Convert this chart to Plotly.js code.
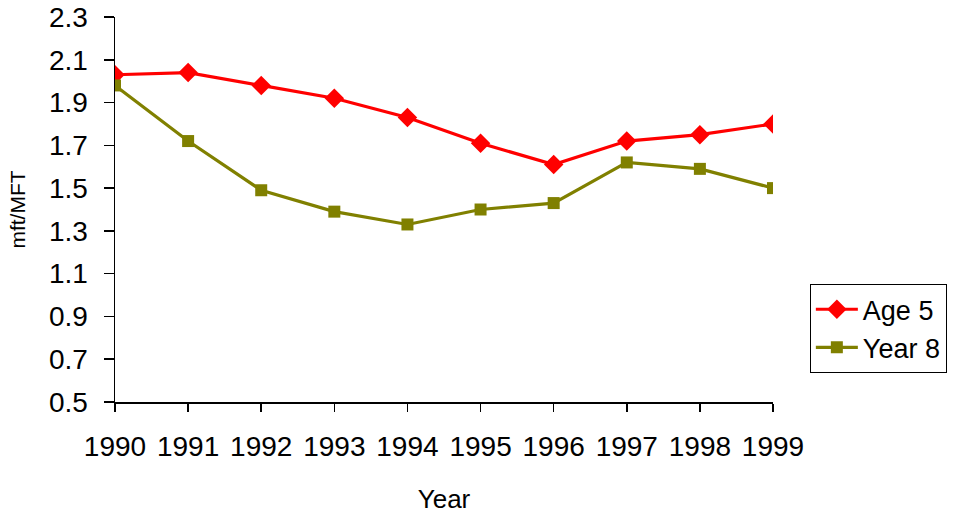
<!DOCTYPE html>
<html>
<head>
<meta charset="utf-8">
<script src="https://cdn.plot.ly/plotly-3.0.1.min.js"></script>
<style>html,body{margin:0;padding:0;background:#fff;}#chart{width:962px;height:514px;}</style>
</head>
<body>
<div id="chart"></div>
<script>
const years = [1990, 1991, 1992, 1993, 1994, 1995, 1996, 1997, 1998, 1999];
const age5 = [2.03, 2.04, 1.98, 1.92, 1.83, 1.71, 1.61, 1.72, 1.75, 1.80];
const year8 = [1.98, 1.72, 1.49, 1.39, 1.33, 1.40, 1.43, 1.62, 1.59, 1.50];
const yTicks = [0.5, 0.7, 0.9, 1.1, 1.3, 1.5, 1.7, 1.9, 2.1, 2.3];
const yTickText = ["0.5", "0.7", "0.9", "1.1", "1.3", "1.5", "1.7", "1.9", "2.1", "2.3"];
const seriesNames = ["Age 5", "Year 8"];

const font = {family: "Liberation Sans, Arial, sans-serif", color: "#000"};

const traces = [
  {x: years, y: age5, name: seriesNames[0], mode: "lines+markers", type: "scatter",
   line: {color: "#FF0000", width: 3.2}, marker: {symbol: "diamond", size: 15, color: "#FF0000"}},
  {x: years, y: year8, name: seriesNames[1], mode: "lines+markers", type: "scatter",
   line: {color: "#808000", width: 3.2}, marker: {symbol: "square", size: 12, color: "#808000"}}
];

const layout = {
  width: 962, height: 514,
  margin: {l: 115, r: 189, t: 17, b: 112},
  paper_bgcolor: "#fff", plot_bgcolor: "#fff",
  font: Object.assign({size: 28}, font),
  showlegend: true,
  legend: {x: 1.056, xanchor: "left", y: 0.306, yanchor: "top",
           bordercolor: "#000", borderwidth: 1, bgcolor: "#fff",
           itemwidth: 42,
           font: Object.assign({size: 27}, font), tracegroupgap: 0},
  xaxis: {
    range: [1990, 1999], tickvals: years, ticktext: years.map(String),
    showline: true, linecolor: "#000", linewidth: 1.5,
    ticks: "outside", ticklen: 8, tickcolor: "#000", tickwidth: 1.5,
    ticklabelstandoff: 11,
    showgrid: false, zeroline: false,
    tickfont: Object.assign({size: 28}, font),
    title: {text: "Year", font: Object.assign({size: 26}, font), standoff: 28}
  },
  yaxis: {
    range: [0.5, 2.3], tickvals: yTicks, ticktext: yTickText,
    showline: true, linecolor: "#000", linewidth: 1.5,
    ticks: "outside", ticklen: 10, tickcolor: "#000", tickwidth: 1.5,
    ticklabelstandoff: 10,
    showgrid: false, zeroline: false,
    tickfont: Object.assign({size: 28}, font),
    title: {text: "mft/MFT", font: Object.assign({size: 21}, font), standoff: 17}
  }
};

Plotly.newPlot("chart", traces, layout, {displayModeBar: false, staticPlot: true});
</script>
</body>
</html>
